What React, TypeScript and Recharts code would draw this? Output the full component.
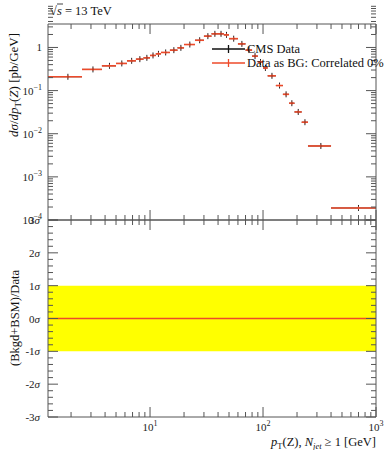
import React from 'react';
import { ComposedChart, Scatter, ErrorBar, XAxis, YAxis, Line, ReferenceArea } from 'recharts';

// pT(Z) bin edges [GeV]
const binLow = [1.25, 2.5, 3.75, 5, 6.25, 7.5, 8.75, 10, 11.25, 12.5, 15, 17.5, 20, 25, 30, 35, 40, 45, 50, 60, 70, 80, 90, 100, 110, 130, 150, 170, 190, 220, 250, 400];
const binHigh = [2.5, 3.75, 5, 6.25, 7.5, 8.75, 10, 11.25, 12.5, 15, 17.5, 20, 25, 30, 35, 40, 45, 50, 60, 70, 80, 90, 100, 110, 130, 150, 170, 190, 220, 250, 400, 1000];
// dsigma/dpT [pb/GeV]
const xsec = [0.209, 0.31, 0.375, 0.426, 0.49, 0.536, 0.575, 0.653, 0.711, 0.766, 0.866, 0.98, 1.17, 1.47, 1.83, 2.07, 2.07, 1.96, 1.6, 1.21, 0.87, 0.63, 0.46, 0.335, 0.22, 0.131, 0.082, 0.051, 0.032, 0.0185, 0.0052, 0.00019];
// (Bkgd+BSM)/Data in sigma
const pull = [0, 0, 0, 0, 0, 0, 0, 0, 0, 0, 0, 0, 0, 0, 0, 0, 0, 0, 0, 0, 0, 0, 0, 0, 0, 0, 0, 0, 0, 0, 0, 0];

const xMajor = [10, 100, 1000];
const xMinor = [1, 10, 100].flatMap((d) => [2, 3, 4, 5, 6, 7, 8, 9].map((m) => m * d));
const yMajor = [1e-4, 1e-3, 1e-2, 1e-1, 1];
const yMinor = [1e-4, 1e-3, 1e-2, 1e-1, 1].flatMap((d) => [2, 3, 4, 5, 6, 7, 8, 9].map((m) => +(m * d).toPrecision(3)));
const sigMajor = [-3, -2, -1, 0, 1, 2, 3];
const sigMinor = [-2.8, -2.6, -2.4, -2.2, -1.8, -1.6, -1.4, -1.2, -0.8, -0.6, -0.4, -0.2, 0.2, 0.4, 0.6, 0.8, 1.2, 1.4, 1.6, 1.8, 2.2, 2.4, 2.6, 2.8];

const RED = '#ee4a2a';
const AXIS = '#555';
const FONT = '"Liberation Serif", "DejaVu Serif", serif';

const points = binLow.map((lo, i) => {
  const hi = binHigh[i];
  const x = (lo + hi) / 2;
  return { x, y: xsec[i], xErr: [x - lo, hi - x] };
});

const pullLine = binLow.flatMap((lo, i) => [
  { x: lo, y: pull[i] },
  { x: binHigh[i], y: pull[i] },
]);

const xTicks = [...xMinor, ...xMajor].sort((a, b) => a - b);
const yTicks = [...yMinor, ...yMajor].sort((a, b) => a - b);
const sigTicks = [...sigMinor, ...sigMajor].sort((a, b) => a - b);

const makeXTick = (dir: number, labels: boolean) => (props: any) => {
  const { x, y, payload } = props;
  const v = payload.value;
  const major = xMajor.includes(v);
  const len = major ? 10 : 5;
  return (
    <g>
      <line x1={x} y1={y} x2={x} y2={y + dir * len} stroke={AXIS} />
      {labels && major && (
        <text x={x} y={y + 14} textAnchor="middle" fontFamily={FONT} fontSize={11} fill="#222">
          10<tspan dy={-5} fontSize={8}>{Math.round(Math.log10(v))}</tspan>
        </text>
      )}
    </g>
  );
};

const makeLogYTick = (dir: number, labels: boolean) => (props: any) => {
  const { x, y, payload } = props;
  const v = payload.value;
  const major = yMajor.includes(v);
  const len = major ? 10 : 5;
  const e = Math.round(Math.log10(v));
  return (
    <g>
      <line x1={x} y1={y} x2={x + dir * len} y2={y} stroke={AXIS} />
      {labels && major && (
        <text x={x - 6} y={y + 4} textAnchor="end" fontFamily={FONT} fontSize={11} fill="#222">
          {e === 0 ? '1' : (
            <>
              10<tspan dy={-5} fontSize={8}>{'\u2212' + Math.abs(e)}</tspan>
            </>
          )}
        </text>
      )}
    </g>
  );
};

const makeSigTick = (dir: number, labels: boolean) => (props: any) => {
  const { x, y, payload } = props;
  const v = payload.value;
  const major = sigMajor.includes(v);
  const len = major ? 10 : 5;
  return (
    <g>
      <line x1={x} y1={y} x2={x + dir * len} y2={y} stroke={AXIS} />
      {labels && major && (
        <text x={x - 8} y={y + 4} textAnchor="end" fontFamily={FONT} fontSize={11} fill="#222">
          {v}<tspan fontStyle="italic">σ</tspan>
        </text>
      )}
    </g>
  );
};

const blackTick = (p: any) => <line x1={p.cx} y1={p.cy - 3} x2={p.cx} y2={p.cy + 3} stroke="#222" strokeWidth={1} />;
const redTick = (p: any) => <line x1={p.cx} y1={p.cy - 1.5} x2={p.cx} y2={p.cy + 1.5} stroke={RED} strokeWidth={1} />;

const xAxisProps = {
  type: 'number' as const,
  dataKey: 'x',
  scale: 'log' as const,
  domain: [1.25, 1000],
  allowDataOverflow: true,
  ticks: xTicks,
  interval: 0 as const,
  height: 1,
  tickSize: 0,
  tickMargin: 0,
  axisLine: { stroke: AXIS },
  tickLine: false,
};

const App: React.FC = () => {
  return (
    <div style={{ position: 'absolute', left: 0, top: 0, width: 389, height: 450, background: '#fff' }}>
      <div style={{ position: 'absolute', left: 0, top: 0 }}>
        <ComposedChart width={389} height={232} margin={{ top: 23, right: 12, bottom: 11, left: 47 }}>
          <XAxis xAxisId="b" orientation="bottom" {...xAxisProps} tick={makeXTick(-1, false)} />
          <XAxis xAxisId="t" orientation="top" {...xAxisProps} tick={makeXTick(1, false)} />
          <YAxis yAxisId="l" orientation="left" type="number" scale="log" domain={[1e-4, 3.5]} allowDataOverflow ticks={yTicks} interval={0} width={1} tickSize={0} tickMargin={0} axisLine={{ stroke: AXIS }} tickLine={false} tick={makeLogYTick(1, true)} />
          <YAxis yAxisId="r" orientation="right" type="number" scale="log" domain={[1e-4, 3.5]} allowDataOverflow ticks={yTicks} interval={0} width={1} tickSize={0} tickMargin={0} axisLine={{ stroke: AXIS }} tickLine={false} tick={makeLogYTick(-1, false)} />
          <Scatter name="CMS Data" data={points} dataKey="y" xAxisId="b" yAxisId="l" shape={blackTick} isAnimationActive={false}>
            <ErrorBar dataKey="xErr" direction="x" width={0} stroke="#222" strokeWidth={1} isAnimationActive={false} />
          </Scatter>
          <Scatter name="Data as BG" data={points} dataKey="y" xAxisId="b" yAxisId="l" shape={redTick} isAnimationActive={false}>
            <ErrorBar dataKey="xErr" direction="x" width={0} stroke={RED} strokeWidth={1.6} isAnimationActive={false} />
          </Scatter>
        </ComposedChart>
      </div>
      <div style={{ position: 'absolute', left: 0, top: 208 }}>
        <ComposedChart width={389} height={242} margin={{ top: 11, right: 12, bottom: 32, left: 47 }}>
          <XAxis xAxisId="b" orientation="bottom" {...xAxisProps} tick={makeXTick(-1, true)} />
          <XAxis xAxisId="t" orientation="top" {...xAxisProps} tick={makeXTick(1, false)} />
          <YAxis yAxisId="l" orientation="left" type="number" domain={[-3, 3]} allowDataOverflow ticks={sigTicks} interval={0} width={1} tickSize={0} tickMargin={0} axisLine={{ stroke: AXIS }} tickLine={false} tick={makeSigTick(1, true)} />
          <YAxis yAxisId="r" orientation="right" type="number" domain={[-3, 3]} allowDataOverflow ticks={sigTicks} interval={0} width={1} tickSize={0} tickMargin={0} axisLine={{ stroke: AXIS }} tickLine={false} tick={makeSigTick(-1, false)} />
          <ReferenceArea xAxisId="b" yAxisId="l" y1={-1} y2={1} fill="#ffff00" fillOpacity={1} stroke="none" />
          <Line data={pullLine} dataKey="y" xAxisId="b" yAxisId="l" stroke={RED} strokeWidth={1.5} dot={false} isAnimationActive={false} />
        </ComposedChart>
      </div>
      <svg width={389} height={450} style={{ position: 'absolute', left: 0, top: 0, pointerEvents: 'none' }} fontFamily={FONT} fill="#111">
        <text x={50} y={15} fontSize={12.5}>
          √<tspan fontStyle="italic">s</tspan> = 13 TeV
        </text>
        <line x1={57} y1={4} x2={63} y2={4} stroke="#111" strokeWidth={0.8} />
        {/* legend */}
        <line x1={212} y1={49} x2={245} y2={49} stroke="#111" strokeWidth={1.3} />
        <line x1={228.5} y1={45} x2={228.5} y2={53} stroke="#111" strokeWidth={1.3} />
        <text x={247} y={53} fontSize={12.5}>CMS Data</text>
        <line x1={212} y1={63} x2={245} y2={63} stroke={RED} strokeWidth={1.3} />
        <line x1={228.5} y1={59} x2={228.5} y2={67} stroke={RED} strokeWidth={1.3} />
        <text x={247} y={67} fontSize={12.5}>Data as BG: Correlated 0%</text>
        {/* axis titles */}
        <text transform="translate(18,85) rotate(-90)" textAnchor="middle" fontSize={13}>
          <tspan fontStyle="italic">dσ</tspan>/<tspan fontStyle="italic">dp</tspan>
          <tspan fontSize={9} dy={3}>T</tspan>
          <tspan dy={-3}>(</tspan><tspan fontStyle="italic">Z</tspan>) [pb/GeV]
        </text>
        <text transform="translate(19,318) rotate(-90)" textAnchor="middle" fontSize={12.5}>
          (Bkgd+BSM)/Data
        </text>
        <text x={376} y={446} textAnchor="end" fontSize={12.5}>
          <tspan fontStyle="italic">p</tspan>
          <tspan fontSize={8.5} dy={3}>T</tspan>
          <tspan dy={-3}>(Z), </tspan>
          <tspan fontStyle="italic">N</tspan>
          <tspan fontSize={8.5} dy={3} fontStyle="italic">jet</tspan>
          <tspan dy={-3}> ≥ 1 [GeV]</tspan>
        </text>
      </svg>
    </div>
  );
};

export default App;
